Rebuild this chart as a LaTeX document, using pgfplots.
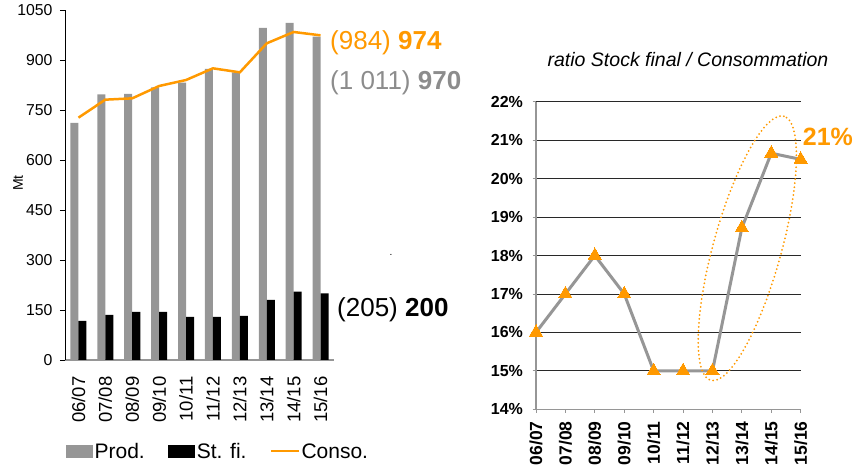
\documentclass[border=0pt]{standalone}
\usepackage{pgfplots}
\pgfplotsset{compat=1.18}
\usepackage{fontspec}
\setmainfont{Liberation Sans}
\definecolor{prodgray}{RGB}{150,150,150}
\definecolor{consoorange}{RGB}{255,153,0}
\definecolor{txtgray}{RGB}{140,140,140}
\definecolor{gridblack}{RGB}{40,40,40}

\begin{document}
\begin{tikzpicture}
\path[use as bounding box] (0,0) rectangle (854pt,468pt);

% production, stocks, consumption
\begin{axis}[
  at={(65pt,108pt)}, anchor=south west,
  scale only axis, width=269pt, height=350pt,
  xmin=-0.5, xmax=9.5, ymin=0, ymax=1050,
  axis lines=left, axis line style={-},
  x axis line style={draw=prodgray, line width=1.2pt},
  y axis line style={draw=black, line width=0.7pt},
  xtick={0,...,9},
  xticklabels={06/07,07/08,08/09,09/10,10/11,11/12,12/13,13/14,14/15,15/16},
  ytick={0,150,300,450,600,750,900,1050},
  yticklabels={0,150,300,450,600,750,900,1050},
  x tick style={draw=none},
  y tick style={draw=black, line width=0.6pt},
  tick align=outside, major tick length=5pt,
  xticklabel style={rotate=90, anchor=east, font=\fontsize{18.5}{20}\selectfont},
  yticklabel style={font=\fontsize{15.8}{17}\selectfont},
  xticklabel shift=8pt, yticklabel shift=4pt,
  clip=false,
  legend style={
    at={(0.004,-0.2614)}, anchor=west,
    draw=none, fill=none, inner sep=0pt, outer sep=0pt,
    legend columns=3,
    font=\fontsize{21}{23}\selectfont,
    nodes={inner sep=1.5pt},
    /tikz/every even column/.append style={column sep=22pt},
  },
  legend cell align=left,
]
\addplot[ybar, bar width=8pt, bar shift=-4pt, fill=prodgray, draw=none,
  legend image code/.code={\fill[prodgray] (0pt,-6.5pt) rectangle (27pt,6.5pt);}]
  coordinates {(0,711) (1,797) (2,798) (3,818) (4,832) (5,873) (6,863) (7,996) (8,1011) (9,970)};
\addlegendentry{Prod.}
\addplot[ybar, bar width=8pt, bar shift=4pt, fill=black, draw=none,
  legend image code/.code={\fill[black] (0pt,-6.5pt) rectangle (27pt,6.5pt);}]
  coordinates {(0,117) (1,135) (2,144) (3,144) (4,129) (5,129) (6,132) (7,180) (8,205) (9,200)};
\addlegendentry{St. fi.}
\addplot[consoorange, line width=2.5pt, mark=none,
  legend image code/.code={\draw[consoorange, line width=2pt] (0pt,0pt) -- (28pt,0pt);}]
  coordinates {(0,727) (1,781) (2,785) (3,822) (4,840) (5,875) (6,863) (7,950) (8,984) (9,974)};
\addlegendentry{Conso.}
\end{axis}

% ratio stock / consumption
\begin{axis}[
  at={(536pt,58.7pt)}, anchor=south west,
  scale only axis, width=264.7pt, height=307.6pt,
  xmin=0, xmax=9, ymin=14, ymax=22,
  axis lines=left, axis line style={-, draw=prodgray, line width=1.2pt},
  xtick={0,...,9},
  xticklabels={06/07,07/08,08/09,09/10,10/11,11/12,12/13,13/14,14/15,15/16},
  ytick={14,...,22},
  yticklabels={14\%,15\%,16\%,17\%,18\%,19\%,20\%,21\%,22\%},
  ymajorgrids, grid style={gridblack, line width=0.7pt},
  tick style={draw=prodgray, line width=0.8pt},
  tick align=outside, major tick length=3.5pt,
  xticklabel style={rotate=90, anchor=east, font=\bfseries\fontsize{17.5}{19}\selectfont},
  yticklabel style={font=\bfseries\fontsize{16}{17}\selectfont},
  xticklabel shift=5pt, yticklabel shift=6pt,
  clip=false,
]
\addplot[prodgray, line width=3pt, mark=triangle*, mark size=7.6pt,
  mark options={fill=consoorange, draw=consoorange, line width=0pt}]
  coordinates {(0,16) (1,17) (2,18) (3,17) (4,15) (5,15) (6,15) (7,18.72) (8,20.66) (9,20.5)};
\end{axis}

\draw[consoorange, line width=2pt, line cap=round, dash pattern=on 0pt off 4pt,
  rotate around={74.5:(747.3pt,219.7pt)}]
  (747.3pt,219.7pt) ellipse [x radius=137pt, y radius=34pt];

\node[anchor=west, inner sep=0pt, text=consoorange, font=\fontsize{26}{28}\selectfont]
  at (330pt,425pt) {(984) \textbf{974}};
\node[anchor=west, inner sep=0pt, text=txtgray, font=\fontsize{26}{28}\selectfont]
  at (330pt,385pt) {(1 011) \textbf{970}};
\node[anchor=west, inner sep=0pt, text=black, font=\fontsize{26}{28}\selectfont]
  at (337pt,158pt) {(205) \textbf{200}};
\node[anchor=west, inner sep=0pt, text=consoorange, font=\bfseries\fontsize{25}{27}\selectfont]
  at (802.7pt,331.3pt) {21\%};
\node[inner sep=0pt, font=\itshape\fontsize{19.5}{21}\selectfont]
  at (688pt,408pt) {ratio Stock final / Consommation};
\node[rotate=90, inner sep=0pt, font=\fontsize{14}{16}\selectfont]
  at (18pt,285pt) {Mt};
\node[inner sep=0pt, font=\fontsize{10}{12}\selectfont] at (391pt,213pt) {.};
\end{tikzpicture}
\end{document}
